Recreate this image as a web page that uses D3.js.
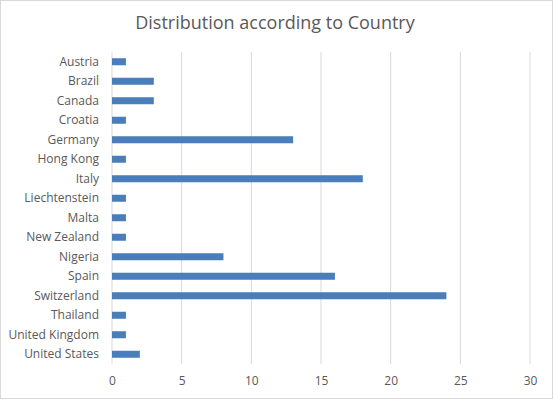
<!DOCTYPE html>
<html>
<head>
<meta charset="utf-8">
<script src="https://cdn.jsdelivr.net/npm/d3@7"></script>
<style>
  body { margin: 0; background: #fff; }
  text { font-family: "Open Sans", "Liberation Sans", sans-serif; fill: #595959; }
</style>
</head>
<body>
<svg id="chart" width="553" height="400"></svg>
<script>
// Data
const countries = ["Austria", "Brazil", "Canada", "Croatia", "Germany", "Hong Kong", "Italy",
  "Liechtenstein", "Malta", "New Zealand", "Nigeria", "Spain", "Switzerland", "Thailand",
  "United Kingdom", "United States"];
const counts = [1, 3, 3, 1, 13, 1, 18, 1, 1, 1, 8, 16, 24, 1, 1, 2];
const xTicks = [0, 5, 10, 15, 20, 25, 30];
const title = "Distribution according to Country";

const width = 553, height = 400;
const margin = { left: 112, right: 23, top: 52, bottom: 36 };
const drawWidth = width - margin.left - margin.right;
const drawHeight = height - margin.top - margin.bottom;

const data = countries.map((c, i) => ({ label: c, value: counts[i] }));

const svg = d3.select("#chart");

// chart border
svg.append("rect")
  .attr("x", 0.5).attr("y", 0.5)
  .attr("width", width - 1).attr("height", height - 2)
  .attr("fill", "#fff").attr("stroke", "#d9d9d9");

svg.append("text")
  .attr("x", 275).attr("y", 29)
  .attr("text-anchor", "middle")
  .style("font-size", "18px")
  .text(title);

const xScale = d3.scaleLinear().domain([0, 30]).range([0, drawWidth]);
const yScale = d3.scaleBand().domain(countries).range([0, drawHeight]).paddingInner(0.64).paddingOuter(0.32);

const g = svg.append("g").attr("transform", `translate(${margin.left},${margin.top})`);

// gridlines
g.selectAll("line.grid").data(xTicks).enter().append("line")
  .attr("class", "grid")
  .attr("x1", d => xScale(d)).attr("x2", d => xScale(d))
  .attr("y1", 0).attr("y2", drawHeight)
  .attr("stroke", "#d9d9d9").attr("stroke-width", 1);

// bars
g.selectAll("rect.bar").data(data).enter().append("rect")
  .attr("class", "bar")
  .attr("x", xScale(0))
  .attr("y", d => yScale(d.label))
  .attr("width", d => xScale(d.value) - xScale(0))
  .attr("height", yScale.bandwidth())
  .attr("fill", "#4a7ebb");

// x axis
const xAxis = g.append("g")
  .attr("transform", `translate(0,${drawHeight})`)
  .call(d3.axisBottom(xScale).tickValues(xTicks).tickSize(0).tickPadding(12));
xAxis.select(".domain").remove();
xAxis.selectAll("text").style("font-size", "12px").attr("fill", "#595959");

// y axis
const yAxis = g.append("g")
  .call(d3.axisLeft(yScale).tickSize(0).tickPadding(13));
yAxis.select(".domain").remove();
yAxis.selectAll("text").style("font-size", "12px").attr("fill", "#595959");
</script>
</body>
</html>
